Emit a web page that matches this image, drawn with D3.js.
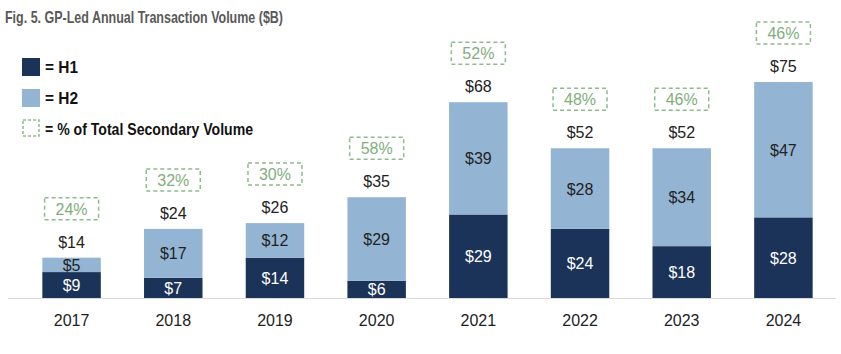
<!DOCTYPE html>
<html>
<head>
<meta charset="utf-8">
<script src="https://cdn.jsdelivr.net/npm/d3@7"></script>
<style>
  body { margin: 0; background: #fff; }
  svg { display: block; }
</style>
</head>
<body>
<div id="chart"></div>
<script>
let width = 841;
let height = 354;

// Data
var years = ["2017", "2018", "2019", "2020", "2021", "2022", "2023", "2024"];
var h1 = [9, 7, 14, 6, 29, 24, 18, 28];
var h2 = [5, 17, 12, 29, 39, 28, 34, 47];
var totals = [14, 24, 26, 35, 68, 52, 52, 75];
var pctSecondary = ["24%", "32%", "30%", "58%", "52%", "48%", "46%", "46%"];

const DARK = "#1b3358";
const LIGHT = "#93b5d3";
const GREEN = "#8dbb8a";

let svg = d3.select("#chart").append("svg")
  .attr("width", width)
  .attr("height", height)
  .style("font-family", "'Liberation Sans', Arial, sans-serif");

var x = d3.scaleBand()
  .domain(years)
  .range([22, 833])
  .paddingInner(0.425)
  .paddingOuter(0.2);

var y = d3.scaleLinear()
  .domain([0, 75])
  .range([298, 82]);

// title (condensed look)
svg.append("text")
  .attr("x", 5).attr("y", 23)
  .attr("fill", "#595959")
  .attr("font-size", 17)
  .attr("font-weight", "bold")
  .attr("textLength", 278)
  .attr("lengthAdjust", "spacingAndGlyphs")
  .text("Fig. 5. GP-Led Annual Transaction Volume ($B)");

// baseline
svg.append("line")
  .attr("x1", 8).attr("x2", 836)
  .attr("y1", y(0) + 0.5).attr("y2", y(0) + 0.5)
  .attr("stroke", "#d9d9d9");

var g = svg.append("g");

// H1 bars
g.selectAll(".h1")
  .data(years)
  .enter().append("rect")
  .attr("x", d => x(d))
  .attr("width", x.bandwidth())
  .attr("y", (d, i) => y(h1[i]))
  .attr("height", (d, i) => y(0) - y(h1[i]))
  .attr("fill", DARK);

// H2 bars
g.selectAll(".h2")
  .data(years)
  .enter().append("rect")
  .attr("x", d => x(d))
  .attr("width", x.bandwidth())
  .attr("y", (d, i) => y(h1[i] + h2[i]))
  .attr("height", (d, i) => y(h1[i]) - y(h1[i] + h2[i]))
  .attr("fill", LIGHT);

// segment labels
g.selectAll(".l1")
  .data(years)
  .enter().append("text")
  .attr("x", d => x(d) + x.bandwidth() / 2)
  .attr("y", (d, i) => (y(0) + y(h1[i])) / 2 + 6)
  .attr("text-anchor", "middle")
  .attr("font-size", 16)
  .attr("fill", "#fff")
  .text((d, i) => "$" + h1[i]);

g.selectAll(".l2")
  .data(years)
  .enter().append("text")
  .attr("x", d => x(d) + x.bandwidth() / 2)
  .attr("y", (d, i) => (y(h1[i]) + y(h1[i] + h2[i])) / 2 + 6)
  .attr("text-anchor", "middle")
  .attr("font-size", 16)
  .attr("fill", "#222")
  .text((d, i) => "$" + h2[i]);

// totals
g.selectAll(".tot")
  .data(years)
  .enter().append("text")
  .attr("x", d => x(d) + x.bandwidth() / 2)
  .attr("y", (d, i) => y(totals[i]) - 10)
  .attr("text-anchor", "middle")
  .attr("font-size", 16)
  .attr("fill", "#222")
  .text((d, i) => "$" + totals[i]);

// % boxes
var pg = g.selectAll(".pct")
  .data(years)
  .enter().append("g")
  .attr("transform", (d, i) => "translate(" + (x(d) + x.bandwidth() / 2) + "," + (y(totals[i]) - 49) + ")");

pg.append("rect")
  .attr("x", -27).attr("y", -11)
  .attr("width", 54).attr("height", 22)
  .attr("fill", "none")
  .attr("stroke", GREEN)
  .attr("stroke-width", 1.5)
  .attr("stroke-dasharray", "4,3");

pg.append("text")
  .attr("y", 6)
  .attr("text-anchor", "middle")
  .attr("font-size", 16)
  .attr("fill", "#7fae7c")
  .text((d, i) => pctSecondary[i]);

// x axis labels
g.selectAll(".yr")
  .data(years)
  .enter().append("text")
  .attr("x", d => x(d) + x.bandwidth() / 2)
  .attr("y", 326)
  .attr("text-anchor", "middle")
  .attr("font-size", 16)
  .attr("fill", "#222")
  .text(d => d);

// legend
var legend = svg.append("g");
legend.append("rect").attr("x", 22).attr("y", 58).attr("width", 18).attr("height", 18).attr("fill", DARK);
legend.append("rect").attr("x", 22).attr("y", 89).attr("width", 18).attr("height", 18).attr("fill", LIGHT);
legend.append("rect").attr("x", 23).attr("y", 120).attr("width", 16).attr("height", 16)
  .attr("fill", "none").attr("stroke", GREEN).attr("stroke-width", 1.5).attr("stroke-dasharray", "3,2");

var legendText = ["H1", "H2", "% of Total Secondary Volume"];
var legendLen = [33, 33, 208];
legend.selectAll(".lt")
  .data(legendText)
  .enter().append("text")
  .attr("x", 45)
  .attr("y", (d, i) => 73 + i * 31)
  .attr("font-size", 16)
  .attr("font-weight", "bold")
  .attr("fill", "#111")
  .attr("textLength", (d, i) => legendLen[i])
  .attr("lengthAdjust", "spacingAndGlyphs")
  .text(d => "= " + d);
</script>
</body>
</html>
